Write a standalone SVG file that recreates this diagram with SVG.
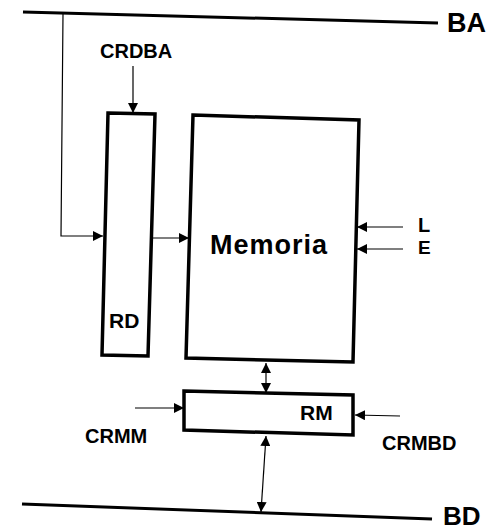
<svg xmlns="http://www.w3.org/2000/svg" width="496" height="531" viewBox="0 0 496 531">
<style>
.t{font-family:"Liberation Sans",Arial,sans-serif;font-weight:bold;fill:#000}
.box{fill:none;stroke:#000;stroke-width:3.5;stroke-linejoin:miter}
.bus{stroke:#000;stroke-width:3;fill:none}
.ln{stroke:#000;stroke-width:1.2;fill:none}
</style>
<defs>
<marker id="ah" viewBox="0 0 10 10" refX="10" refY="5" markerWidth="10" markerHeight="10" markerUnits="userSpaceOnUse" orient="auto-start-reverse">
<path d="M0,0 L10,5 L0,10 Z" fill="#000"/>
</marker>
</defs>
<g id="bus-BA">
<line class="bus" x1="23" y1="12" x2="438" y2="23"/>
<text class="t" x="447" y="32" font-size="27">BA</text>
</g>
<g id="bus-BD">
<line class="bus" x1="22" y1="504" x2="432" y2="519"/>
<text class="t" x="443" y="525" font-size="26">BD</text>
</g>
<g id="RD">
<polygon class="box" points="108,113 155,114 148,356 102,355"/>
<text class="t" x="109" y="328" font-size="21">RD</text>
</g>
<g id="Memoria">
<polygon class="box" points="193,115 359,120 353,362 186,358"/>
<text class="t" x="210" y="254" font-size="27" letter-spacing="1">Memoria</text>
</g>
<g id="RM">
<polygon class="box" points="184,391 353,395 353,435 184,430"/>
<text class="t" x="300" y="420" font-size="21">RM</text>
</g>
<g id="labels">
<text class="t" x="100" y="58" font-size="20">CRDBA</text>
<text class="t" x="418" y="232" font-size="20">L</text>
<text class="t" x="418" y="254" font-size="19">E</text>
<text class="t" x="85" y="443" font-size="20">CRMM</text>
<text class="t" x="382" y="450" font-size="20">CRMBD</text>
</g>
<g id="connectors">
<polyline class="ln" points="63,14 61,236 103,236" marker-end="url(#ah)"/>
<line class="ln" x1="133" y1="66" x2="133" y2="113" marker-end="url(#ah)"/>
<line class="ln" x1="152" y1="238" x2="189" y2="238" marker-end="url(#ah)"/>
<line class="ln" x1="403" y1="227" x2="357" y2="227" marker-end="url(#ah)"/>
<line class="ln" x1="403" y1="249" x2="357" y2="249" marker-end="url(#ah)"/>
<line class="ln" x1="266" y1="363" x2="266" y2="393" marker-start="url(#ah)" marker-end="url(#ah)"/>
<line class="ln" x1="135" y1="408" x2="184" y2="408" marker-end="url(#ah)"/>
<line class="ln" x1="400" y1="416" x2="355" y2="415" marker-end="url(#ah)"/>
<line class="ln" x1="266" y1="436" x2="261" y2="512" marker-start="url(#ah)" marker-end="url(#ah)"/>
</g>
</svg>
